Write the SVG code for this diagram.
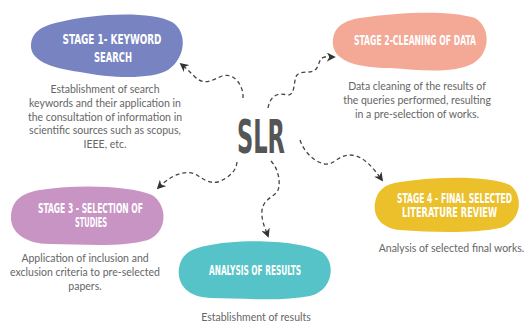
<svg xmlns="http://www.w3.org/2000/svg" width="527" height="324" viewBox="0 0 527 324">
  <style>
    .title { font-family: "Liberation Sans Narrow", "DejaVu Sans Condensed", "Liberation Sans", sans-serif; font-weight: bold; font-size: 14px; fill: #ffffff; text-anchor: middle; }
    .desc { font-family: Lato, "Noto Sans", sans-serif; font-size: 10.5px; fill: #666666; text-anchor: middle; }
    .hub { font-family: "Liberation Sans Narrow", "DejaVu Sans Condensed", sans-serif; font-weight: bold; font-size: 46px; fill: #555555; text-anchor: middle; }
    .link { fill: none; stroke: #444444; stroke-width: 1.3; stroke-dasharray: 4 3; marker-end: url(#tip); }
  </style>
  <defs>
    <marker id="tip" viewBox="0 0 10 10" refX="8" refY="5" markerWidth="9" markerHeight="9" markerUnits="userSpaceOnUse" orient="auto">
      <path d="M0,0 L10,5 L0,10 L3,5 Z" fill="#333333"/>
    </marker>
  </defs>
  <rect width="527" height="324" fill="#ffffff"/>

  <!-- centre -->
  <g id="slr">
    <text class="hub" x="261" y="153" textLength="48" lengthAdjust="spacingAndGlyphs">SLR</text>
  </g>

  <!-- connectors -->
  <g id="connectors">
    <path class="link" d="M243 98 C244 86 234 72 222 76 C212 80 205 86 195 77 C190 72 186 68 181 64"/>
    <path class="link" d="M268 108 C270 96 278 92 287 95 C296 96 293 80 297 75 C302 70 310 74 315 70 C320 66 318 58 325 57 L334 57"/>
    <path class="link" d="M237 162 C236 172 228 178 218 182 C208 184 202 178 195 174 C185 170 172 174 158 188"/>
    <path class="link" d="M300 140 C304 152 314 162 325 164 C335 165 338 155 350 155 C362 155 372 166 382 180"/>
    <path class="link" d="M271 161 C278 168 281 182 278 190 C275 197 264 198 262 210 C261 220 265 228 268 236"/>
  </g>

  <!-- stage 1 -->
  <g id="stage1">
    <path d="M60 22 C90 14 150 10 172 22 C188 32 186 58 168 70 C150 80 110 78 80 72 C50 68 30 60 31 45 C32 30 45 25 60 22 Z" fill="#7884c2"/>
    <text class="title" x="112" y="44" textLength="99" lengthAdjust="spacingAndGlyphs">STAGE 1- KEYWORD</text>
    <text class="title" x="113" y="62" textLength="38" lengthAdjust="spacingAndGlyphs">SEARCH</text>
    <text class="desc" x="105" y="92.5">Establishment of search</text>
    <text class="desc" x="105" y="106.5">keywords and their application in</text>
    <text class="desc" x="105" y="120.5">the consultation of information in</text>
    <text class="desc" x="105" y="134">scientific sources such as scopus,</text>
    <text class="desc" x="105" y="148">IEEE, etc.</text>
  </g>

  <!-- stage 2 -->
  <g id="stage2">
    <path d="M360 18 C400 12 450 10 475 18 C492 28 490 55 472 64 C450 74 420 70 390 68 C360 68 335 62 333 45 C332 28 342 21 360 18 Z" fill="#f4a896"/>
    <text class="title" x="415" y="45" textLength="122" lengthAdjust="spacingAndGlyphs">STAGE 2-CLEANING OF DATA</text>
    <text class="desc" x="417" y="90">Data cleaning of the results of</text>
    <text class="desc" x="417" y="104">the queries performed, resulting</text>
    <text class="desc" x="417" y="118">in a pre-selection of works.</text>
  </g>

  <!-- stage 3 -->
  <g id="stage3">
    <path d="M40 190 C80 184 130 186 152 195 C168 205 168 232 148 240 C120 248 80 244 50 244 C25 244 10 232 11 216 C12 200 22 193 40 190 Z" fill="#c894c4"/>
    <text class="title" x="90.5" y="213" textLength="105" lengthAdjust="spacingAndGlyphs">STAGE 3 - SELECTION OF</text>
    <text class="title" x="91" y="227" textLength="32" lengthAdjust="spacingAndGlyphs">STUDIES</text>
    <text class="desc" x="85" y="262">Application of inclusion and</text>
    <text class="desc" x="85" y="276">exclusion criteria to pre-selected</text>
    <text class="desc" x="85" y="290">papers.</text>
  </g>

  <!-- analysis -->
  <g id="analysis">
    <path d="M205 246 C240 238 300 240 322 252 C336 262 334 290 310 296 C280 302 240 298 210 298 C185 297 177 282 179 268 C181 255 190 249 205 246 Z" fill="#56c3c8"/>
    <text class="title" x="255" y="275" textLength="92" lengthAdjust="spacingAndGlyphs">ANALYSIS OF RESULTS</text>
    <text class="desc" x="256" y="321">Establishment of results</text>
  </g>

  <!-- stage 4 -->
  <g id="stage4">
    <path d="M400 182 C440 176 490 176 510 185 C524 195 522 222 500 228 C470 234 430 232 400 230 C380 228 373 215 375 203 C377 190 385 184 400 182 Z" fill="#ebc02a"/>
    <text class="title" x="454.5" y="203" textLength="115" lengthAdjust="spacingAndGlyphs">STAGE 4 - FINAL SELECTED</text>
    <text class="title" x="449.5" y="217" textLength="95" lengthAdjust="spacingAndGlyphs">LITERATURE REVIEW</text>
    <text class="desc" x="451.5" y="252">Analysis of selected final works.</text>
  </g>
</svg>
